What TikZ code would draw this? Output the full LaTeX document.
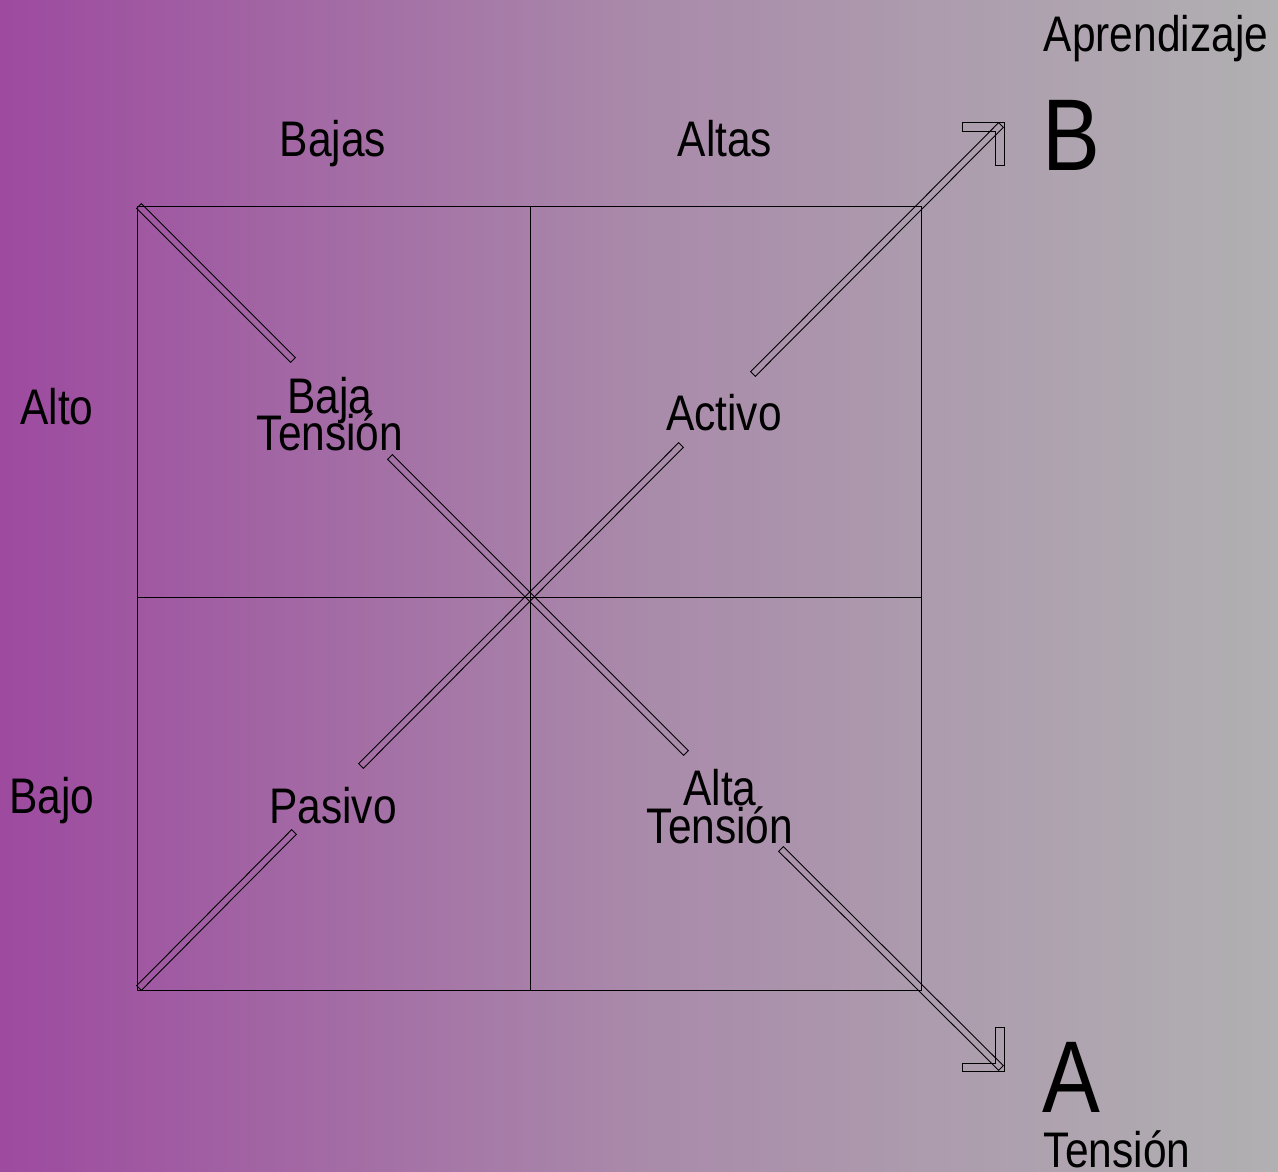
\documentclass[tikz,border=0pt]{standalone}
\usepackage{fontspec}
\setmainfont{Liberation Sans}[FakeStretch=0.85]
\usetikzlibrary{calc}
\definecolor{bgleft}{RGB}{157,74,159}
\definecolor{bgmid}{RGB}{169,138,170}
\definecolor{bgright}{RGB}{177,176,178}
\tikzset{
  lbl/.style={font=\fontsize{50}{37}\selectfont, inner sep=0pt, anchor=base, align=center, text=black},
  bigletter/.style={font=\fontsize{102}{102}\selectfont, inner sep=0pt, anchor=base, text=black},
  frame/.style={draw=black, line width=1pt},
  stripe/.style={draw=black, line width=0.9pt, line join=miter},
}
\newcommand{\stripe}[2]{\draw[stripe] ($(#1)!3.3pt!90:(#2)$) -- ($(#2)!3.3pt!-90:(#1)$) -- ($(#2)!3.3pt!90:(#1)$) -- ($(#1)!3.3pt!-90:(#2)$) -- cycle;}
\begin{document}
\begin{tikzpicture}[x=1pt,y=-1pt]
\shade[left color=bgleft, right color=bgright, middle color=bgmid] (0,0) rectangle (1278,1172);
\useasboundingbox (0,0) rectangle (1278,1172);
% grid
\draw[frame] (137,206) rectangle (921,990);
\draw[frame] (530,206) -- (530,990);
\draw[frame] (137,597) -- (921,597);
% labels
\node[lbl] (bajas) at (333,157) {Bajas};
\node[lbl] (altas) at (725,157) {Altas};
\node[lbl] (alto) at (57,424) {Alto};
\node[lbl] (bajo) at (52,813) {Bajo};
\node[lbl] (bajat) at (330,450) {Baja\\[-12pt]Tensión};
\node[lbl] (activo) at (724,430) {Activo};
\node[lbl] (pasivo) at (333,823) {Pasivo};
\node[lbl] (altat) at (720,843) {Alta\\[-0.5pt]Tensión};
\node[lbl] (aprend) at (1156,52) {Aprendizaje};
\node[bigletter] (B) at (1071,170) {B};
\node[bigletter] (A) at (1071,1112) {A};
\node[lbl] (tens) at (1117,1167) {Tensión};
% stripe end points
\coordinate (c1a) at (139,206);
\coordinate (c1b) at (293,360);
\coordinate (c2a) at (390,457);
\coordinate (c2b) at (686,753);
\coordinate (c3a) at (781,849);
\coordinate (c3b) at (1001,1068);
\coordinate (c4a) at (139,988);
\coordinate (c4b) at (294,832);
\coordinate (c5a) at (361,766);
\coordinate (c5b) at (681,445);
\coordinate (c6a) at (753,374);
\coordinate (c6b) at (1001,125);
\stripe{c1a}{c1b}
\stripe{c2a}{c2b}
\stripe{c3a}{c3b}
\stripe{c4a}{c4b}
\stripe{c5a}{c5b}
\stripe{c6a}{c6b}
% arrow heads
\draw[stripe] (962,122) -- (1004,122) -- (1004,165) -- (995,165) -- (995,131) -- (962,131) -- cycle;
\draw[stripe] (962,1071) -- (1004,1071) -- (1004,1027) -- (995,1027) -- (995,1063) -- (962,1063) -- cycle;
\end{tikzpicture}
\end{document}
